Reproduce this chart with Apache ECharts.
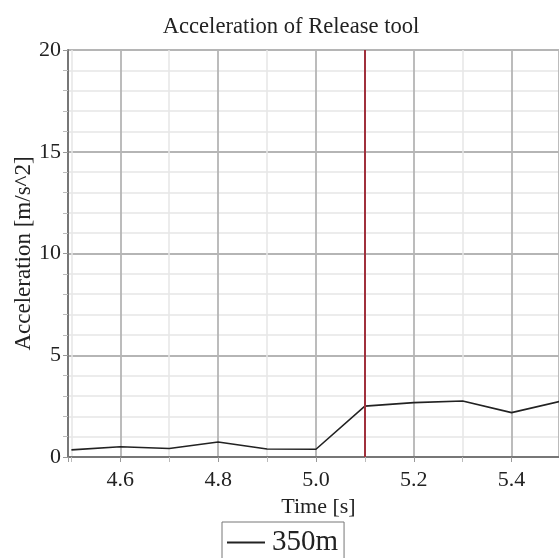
<!DOCTYPE html>
<html><head><meta charset="utf-8">
<script src="https://cdn.jsdelivr.net/npm/echarts@6/dist/echarts.min.js"></script>
<style>html,body{margin:0;padding:0;background:#fff}#c{width:559px;height:558px}</style>
</head><body><div id="c"></div>
<script>
var times = [4.5, 4.6, 4.7, 4.8, 4.9, 5.0, 5.1, 5.2, 5.3, 5.4, 5.5];
var accel350 = [0.35, 0.5, 0.42, 0.74, 0.39, 0.38, 2.5, 2.67, 2.75, 2.18, 2.74];
var releaseTime = [5.1];
var xRange = [4.493, 5.497];
var yRange = [0, 20];
var seriesName = '350m';

var font = 'Liberation Serif';
var chart = echarts.init(document.getElementById('c'));
chart.setOption({
  animation: false,
  backgroundColor: '#fff',
  textStyle: {fontFamily: font},
  title: {
    text: 'Acceleration of Release tool',
    left: 286, top: 11, textAlign: 'center',
    textStyle: {fontFamily: font, fontSize: 22.6, fontWeight: 'normal', color: '#222'}
  },
  legend: {
    data: [{name: seriesName, icon: 'rect'}],
    left: 222, top: 522,
    borderColor: '#777', borderWidth: 1, borderRadius: 0,
    padding: [6, 6, 8, 5],
    itemWidth: 38, itemHeight: 2, itemGap: 5,
    textStyle: {fontFamily: font, fontSize: 29, color: '#222', padding: [0, 0, 0, 2]}
  },
  grid: {left: 68, top: 50, right: 0, bottom: 101, containLabel: false, outerBoundsMode: 'none'},
  xAxis: {
    type: 'value', min: xRange[0], max: xRange[1], splitNumber: 5,
    name: 'Time [s]', nameLocation: 'middle', nameGap: 39, nameMoveOverlap: false,
    nameTextStyle: {fontFamily: font, fontSize: 22, color: '#222', padding: [0, 0, 0, 10]},
    axisLine: {show: true, onZero: false, lineStyle: {color: '#777', width: 2}},
    axisTick: {show: true, inside: false, length: 5, lineStyle: {color: '#999'}},
    minorTick: {show: true, splitNumber: 2, length: 5, lineStyle: {color: '#bbb'}},
    axisLabel: {
      fontFamily: font, fontSize: 22, color: '#222', margin: 12,
      showMinLabel: false, showMaxLabel: false,
      formatter: function (v) {
        var k = Math.round(v * 10);
        if (Math.abs(v * 10 - k) > 1e-6 || k % 2 !== 0) return '';
        return (k / 10).toFixed(1);
      }
    },
    splitLine: {show: true, lineStyle: {color: '#b5b5b5', width: 1.8}},
    minorSplitLine: {show: true, lineStyle: {color: '#e6e6e6', width: 1.5}}
  },
  yAxis: {
    type: 'value', min: yRange[0], max: yRange[1], interval: 5,
    name: 'Acceleration [m/s^2]', nameLocation: 'middle', nameGap: 33, nameMoveOverlap: false,
    nameTextStyle: {fontFamily: font, fontSize: 23, color: '#222'},
    axisLine: {show: true, lineStyle: {color: '#777', width: 2}},
    axisTick: {show: true, inside: false, length: 5, lineStyle: {color: '#999'}},
    minorTick: {show: true, splitNumber: 5, length: 5, lineStyle: {color: '#bbb'}},
    axisLabel: {fontFamily: font, fontSize: 22, color: '#222', margin: 7},
    splitLine: {show: true, lineStyle: {color: '#b5b5b5', width: 1.8}},
    minorSplitLine: {show: true, lineStyle: {color: '#e6e6e6', width: 1.5}}
  },
  series: [{
    name: seriesName, type: 'line', symbol: 'none',
    data: times.map(function (t, i) { return [t, accel350[i]]; }),
    lineStyle: {color: '#222', width: 1.6},
    itemStyle: {color: '#222'},
    clip: true,
    markLine: {
      silent: true, symbol: ['none', 'none'], label: {show: false},
      lineStyle: {color: '#a0303c', width: 2, type: 'solid'},
      data: releaseTime.map(function (t) { return {xAxis: t}; })
    }
  }]
});
</script></body></html>
